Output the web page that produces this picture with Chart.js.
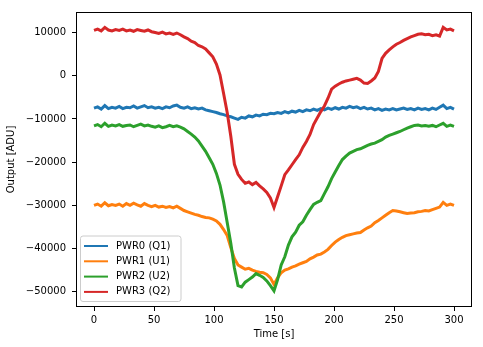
<!DOCTYPE html>
<html>
<head>
<meta charset="utf-8">
<script src="https://cdn.jsdelivr.net/npm/chart.js@4.4.1/dist/chart.umd.min.js"></script>
<style>
  html, body { margin: 0; padding: 0; background: #fff; }
  canvas { display: block; }
</style>
</head>
<body>
<canvas id="chart" width="483" height="347"></canvas>
<script>
// time axis, one sample every 3 s
var times = [];
for (var s = 0; s <= 300; s += 3) times.push(s);

var seriesNames = ["PWR0 (Q1)", "PWR1 (U1)", "PWR2 (U2)", "PWR3 (Q2)"];
var seriesColors = ["#1f77b4", "#ff7f0e", "#2ca02c", "#d62728"];

var xTicks = [0, 50, 100, 150, 200, 250, 300];
var yTicks = [-50000, -40000, -30000, -20000, -10000, 0, 10000];

var pwr0 = [
	-7500, -7200, -7700, -6900, -7600, -7300, -7500, -7100, -7600, -7300,
	-7400, -7000, -7500, -7200, -6900, -7400, -7200, -7500, -7300, -7600,
	-7200, -7400, -7000, -6800, -7300, -7500, -7200, -7600, -7400, -7700,
	-7500, -7900, -8100, -8300, -8500, -8800, -9000, -9300, -9500, -9800,
	-10100, -9600, -9800, -9300, -9500, -9100, -9300, -8900, -9000, -8700,
	-8800, -8500, -8700, -8300, -8600, -8200, -8400, -8000, -8300, -7900,
	-8100, -7700, -8000, -7600, -7900, -7500, -7800, -7400, -7700, -7300,
	-7500, -7100, -7400, -7200, -7600, -7300, -7700, -7500, -7900, -7600,
	-8000, -7700, -7900, -7600, -7900, -7700, -7500, -7800, -7600, -7900,
	-7500, -7800, -7600, -7900, -7500, -7800, -7300, -6800, -7600, -7300,
	-7700
];

var pwr1 = [
	-30000, -29700, -30200, -29400, -30100, -29800, -30000, -29700, -30200, -29600,
	-30000, -29500, -29900, -30200, -29600, -30000, -30300, -30000, -30400, -30200,
	-30500, -30300, -30600, -30200, -30700, -31200, -31500, -31800, -32100, -32300,
	-32600, -32800, -32900, -33200, -33600, -34400, -35600, -37000, -39800, -42300,
	-43800, -44300, -44800, -44600, -45000, -45300, -45500, -45600, -46000, -46800,
	-48300, -46800, -45600, -45000, -44700, -44300, -44000, -43600, -43300, -43000,
	-42400, -42000, -41500, -41300, -40800, -40200, -39300, -38500, -37900, -37400,
	-37000, -36800, -36600, -36400, -36300, -35700, -35200, -34800, -34000, -33500,
	-32900, -32300, -31700, -31200, -31300, -31500, -31700, -31900, -31800, -31700,
	-31500, -31400, -31200, -31300, -31000, -30700, -30400, -29300, -30000, -29700,
	-30000
];

var pwr2 = [
	-11600, -11300, -11800, -11000, -11700, -11400, -11600, -11300, -11700, -11500,
	-11400, -11800, -11500, -11200, -11600, -11400, -11700, -11900, -11600, -12000,
	-11800, -11500, -11800, -11600, -11900, -12300, -12900, -13500, -14200, -15100,
	-16300, -17500, -19000, -20500, -22600, -25300, -29200, -34000, -38800, -44500,
	-48600, -48900, -47800, -47200, -46600, -45800, -46200, -46700, -47500, -48600,
	-49800, -47200, -43800, -41900, -39200, -37300, -36200, -34600, -33800, -32300,
	-31000, -29800, -29300, -28900, -27300, -25700, -23800, -22300, -20800, -19400,
	-18600, -17900, -17500, -17100, -16900, -16500, -16100, -15800, -15600, -15200,
	-14800, -14200, -13800, -13500, -13200, -12900, -12500, -12100, -11800, -11500,
	-11400, -11600, -11500, -11700, -11500, -11800, -11400, -11000, -11700, -11400,
	-11700
];

var pwr3 = [
	10500, 10800, 10400, 11200, 10600, 10400, 10700, 10500, 10800, 10400,
	10600, 10300, 10700, 10500, 10300, 10600, 10200, 10000, 9800, 10100,
	9700, 9900, 9600, 9900, 9500, 9000, 8600, 8000, 7700, 7000,
	6700, 6200, 5300, 4400, 2700, 200, -4100, -8500, -14000, -20500,
	-22800, -24000, -24900, -24600, -25200, -24700, -25500, -26200, -27000, -28300,
	-30500, -28000, -25500, -22900, -21800, -20600, -19400, -18300, -16600, -15200,
	-13600, -11300, -9800, -8300, -7000, -5200, -3100, -2400, -1900, -1500,
	-1200, -1000, -800, -600, -1000, -1700, -1800, -1200, -500, 1000,
	4000, 5200, 6000, 6700, 7300, 7700, 8200, 8600, 9000, 9300,
	9600, 9700, 9500, 9600, 9300, 9500, 9200, 11200, 10600, 10800,
	10400
];

var allSeries = [pwr0, pwr1, pwr2, pwr3];

function toPoints(vals) {
	return times.map(function(t, i) { return { x: t, y: vals[i] }; });
}

function fmt(v) {
	return v < 0 ? "\u2212" + Math.abs(v) : String(v);
}

Chart.defaults.font.family = "'DejaVu Sans', sans-serif";
Chart.defaults.font.size = 10;
Chart.defaults.color = "#000";

// black frame round the plot + matplotlib style legend box
var framePlugin = {
	id: "frame",
	afterDraw: function(chart) {
		var ctx = chart.ctx;
		var a = chart.chartArea;
		ctx.save();
		ctx.strokeStyle = "#000";
		ctx.lineWidth = 1;
		ctx.strokeRect(Math.round(a.left) + 0.5, Math.round(a.top) + 0.5,
			Math.round(a.right - a.left) - 1, Math.round(a.bottom - a.top) - 1);

		// legend
		var bx = 80.5, by = 236, bw = 100.5, bh = 65.5, r = 2.5;
		ctx.beginPath();
		ctx.moveTo(bx + r, by);
		ctx.lineTo(bx + bw - r, by);
		ctx.quadraticCurveTo(bx + bw, by, bx + bw, by + r);
		ctx.lineTo(bx + bw, by + bh - r);
		ctx.quadraticCurveTo(bx + bw, by + bh, bx + bw - r, by + bh);
		ctx.lineTo(bx + r, by + bh);
		ctx.quadraticCurveTo(bx, by + bh, bx, by + bh - r);
		ctx.lineTo(bx, by + r);
		ctx.quadraticCurveTo(bx, by, bx + r, by);
		ctx.closePath();
		ctx.fillStyle = "rgba(255,255,255,0.8)";
		ctx.fill();
		ctx.strokeStyle = "#cccccc";
		ctx.stroke();

		ctx.font = "10px 'DejaVu Sans', sans-serif";
		ctx.textBaseline = "middle";
		ctx.textAlign = "left";
		var rowY = [246, 261.3, 276.6, 291.9];
		chart.data.datasets.forEach(function(ds, i) {
			ctx.strokeStyle = ds.borderColor;
			ctx.lineWidth = 2;
			ctx.beginPath();
			ctx.moveTo(84, rowY[i]);
			ctx.lineTo(108, rowY[i]);
			ctx.stroke();
			ctx.fillStyle = "#000";
			ctx.fillText(ds.label, 116, rowY[i]);
		});
		ctx.restore();
	}
};

var datasets = allSeries.map(function(vals, i) {
	return {
		label: seriesNames[i],
		data: toPoints(vals),
		borderColor: seriesColors[i],
		backgroundColor: seriesColors[i],
		borderWidth: 3,
		pointRadius: 0,
		fill: false,
		tension: 0,
		order: 3 - i
	};
});

var chart = new Chart(document.getElementById("chart"), {
	type: "line",
	data: { datasets: datasets },
	options: {
		responsive: false,
		animation: false,
		layout: { padding: { top: 12, right: 11, left: 0, bottom: 0 } },
		plugins: {
			legend: { display: false },
			tooltip: { enabled: false }
		},
		scales: {
			x: {
				type: "linear",
				min: -15,
				max: 315,
				afterBuildTicks: function(scale) {
					scale.ticks = xTicks.map(function(v) { return { value: v }; });
				},
				afterFit: function(scale) { scale.height = 40; },
				ticks: {
					padding: 3,
					maxRotation: 0,
					callback: function(v) { return fmt(v); }
				},
				grid: {
					drawOnChartArea: false,
					drawTicks: true,
					tickLength: 4,
					color: "#000"
				},
				border: { display: false },
				title: {
					display: true,
					text: "Time [s]",
					padding: { top: 0, bottom: 7 }
				}
			},
			y: {
				type: "linear",
				min: -53540,
				max: 14765,
				afterBuildTicks: function(scale) {
					scale.ticks = yTicks.map(function(v) { return { value: v }; });
				},
				afterFit: function(scale) { scale.width = 76; },
				ticks: {
					padding: 6,
					callback: function(v) { return fmt(v); }
				},
				grid: {
					drawOnChartArea: false,
					drawTicks: true,
					tickLength: 4,
					color: "#000"
				},
				border: { display: false },
				title: {
					display: true,
					text: "Output [ADU]",
					padding: { top: 5, bottom: 0 }
				}
			}
		}
	},
	plugins: [framePlugin]
});
</script>
</body>
</html>
